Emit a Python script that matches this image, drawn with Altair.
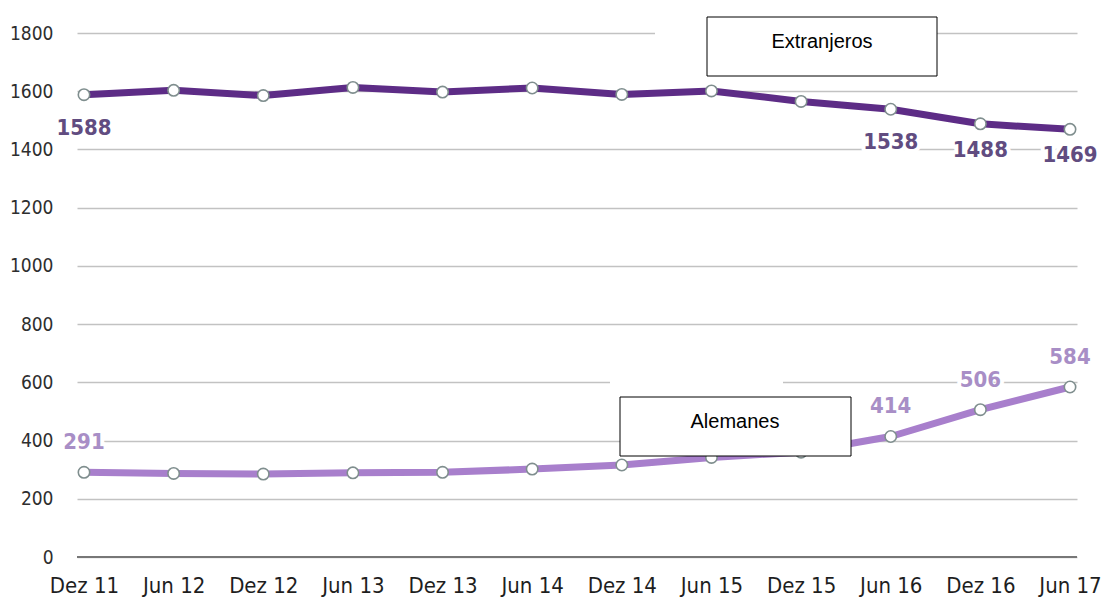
import altair as alt
import pandas as pd

periodos = ["Dez 11", "Jun 12", "Dez 12", "Jun 13", "Dez 13", "Jun 14",
            "Dez 14", "Jun 15", "Dez 15", "Jun 16", "Dez 16", "Jun 17"]
extranjeros = [1588, 1603, 1585, 1613, 1597, 1611, 1589, 1601, 1565, 1538, 1488, 1469]
alemanes = [291, 287, 285, 289, 291, 302, 316, 342, 360, 414, 506, 584]
series = ["Extranjeros", "Alemanes"]
etiquetas_ext_a = [0, 9]      # labels further below the line
etiquetas_ext_b = [10, 11]
etiquetas_alem = [0, 9, 10, 11]
y_ticks = [0, 200, 400, 600, 800, 1000, 1200, 1400, 1600, 1800]

rows = []
for i, p in enumerate(periodos):
    rows.append(dict(periodo=p, idx=i, serie="Extranjeros", valor=extranjeros[i]))
    rows.append(dict(periodo=p, idx=i, serie="Alemanes", valor=alemanes[i]))
df = pd.DataFrame(rows)

FONT = "DejaVu Sans Condensed, sans-serif"
BOXFONT = "Liberation Sans, Arial, sans-serif"
COL_EXT = "#5d2c86"
COL_ALE = "#a87fcc"
LAB_EXT = "#614c80"
LAB_ALE = "#a88ec6"

x = alt.X("periodo:N", sort=periodos,
          scale=alt.Scale(type="point", padding=0.078),
          axis=alt.Axis(title=None, labelAngle=0, labelFontSize=22, labelFont=FONT,
                        labelColor="#1e1e1e", ticks=False, domain=False,
                        labelPadding=18, grid=False))
y = alt.Y("valor:Q", scale=alt.Scale(domain=[0, 1800], nice=False),
          axis=alt.Axis(title=None, values=y_ticks, format="d", labelFontSize=19,
                        labelFont=FONT, labelColor="#2e2e2e", ticks=False,
                        domain=False, labelPadding=24, grid=True,
                        gridColor="#c2c2c2", gridWidth=1.5, labelBaseline="middle"))

base = alt.Chart(df)
one = alt.Chart(pd.DataFrame({"k": [0]}))

zero_rule = one.mark_rule(color="#777777", strokeWidth=2).encode(
    x=alt.value(0), x2=alt.value(1000), y=alt.value(524))

gap1 = one.mark_rect(fill="white").encode(
    x=alt.value(578), x2=alt.value(630), y=alt.value(-3), y2=alt.value(3))
gap2 = one.mark_rect(fill="white").encode(
    x=alt.value(533), x2=alt.value(706), y=alt.value(348), y2=alt.value(354))

lines = base.mark_line(strokeWidth=7, strokeCap="round", strokeJoin="round").encode(
    x=x, y=y,
    color=alt.Color("serie:N", scale=alt.Scale(domain=series, range=[COL_EXT, COL_ALE]),
                    legend=None),
    detail="serie:N")

points = base.mark_circle(size=130, fill="white", stroke="#7f8e8e", strokeWidth=1.6,
                          opacity=1).encode(x=x, y=y)


def labels(serie, idxs, dy, color):
    expr = "datum.serie == '%s' && indexof([%s], datum.idx) >= 0" % (
        serie, ",".join(str(i) for i in idxs))
    src = base.transform_filter(expr)
    halo = src.mark_text(font=FONT, fontSize=22, fontWeight="bold", dy=dy,
                         stroke="white", strokeWidth=8, strokeJoin="round",
                         fill="white").encode(x=x, y=y, text="valor:Q")
    txt = src.mark_text(font=FONT, fontSize=22, fontWeight="bold", dy=dy,
                        color=color).encode(x=x, y=y, text="valor:Q")
    return [halo, txt]


lab_layers = (labels("Extranjeros", etiquetas_ext_a, 33, LAB_EXT)
              + labels("Extranjeros", etiquetas_ext_b, 26, LAB_EXT)
              + labels("Alemanes", etiquetas_alem, -30, LAB_ALE))

box_ext = one.mark_rect(fill="white", stroke="black", strokeWidth=1).encode(
    x=alt.value(630), x2=alt.value(860), y=alt.value(-16), y2=alt.value(43))
txt_ext = one.mark_text(font=BOXFONT, fontSize=20, color="black").encode(
    x=alt.value(745), y=alt.value(9), text=alt.value(series[0]))
box_ale = one.mark_rect(fill="white", stroke="black", strokeWidth=1).encode(
    x=alt.value(543), x2=alt.value(774), y=alt.value(364), y2=alt.value(423))
txt_ale = one.mark_text(font=BOXFONT, fontSize=20, color="black").encode(
    x=alt.value(658), y=alt.value(389), text=alt.value(series[1]))

chart = alt.layer(lines, zero_rule, gap1, gap2, points, *lab_layers,
                  box_ext, txt_ext, box_ale, txt_ale).properties(
    width=1000, height=524,
    padding={"left": 77, "top": 33, "right": 32, "bottom": 49},
    autosize=alt.AutoSizeParams(type="none"),
    background="white",
).configure_view(stroke=None)

chart.save("out.html", embed_options={"renderer": "svg", "actions": False})
